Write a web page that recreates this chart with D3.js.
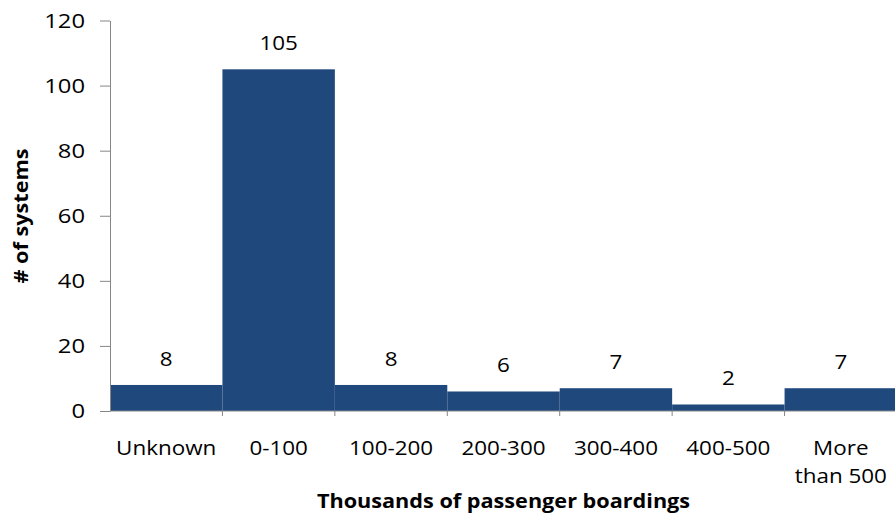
<!DOCTYPE html>
<html>
<head>
<meta charset="utf-8">
<script src="https://cdn.jsdelivr.net/npm/d3@7"></script>
<style>
  html, body { margin: 0; padding: 0; background: #fff; }
  svg { display: block; font-family: "Open Sans", "Liberation Sans", sans-serif; }
</style>
</head>
<body>
<svg id="chart" width="895" height="531"></svg>
<script>
// Ridership bins and number of systems in each
const categories = ["Unknown", "0-100", "100-200", "200-300", "300-400", "400-500", "More than 500"];
const systems = [8, 105, 8, 6, 7, 2, 7];
const yTicks = [0, 20, 40, 60, 80, 100, 120];
const xTitle = "Thousands of passenger boardings";
const yTitle = "# of systems";

const svg = d3.select("#chart");
const plotLeft = 110, plotRight = 897, plotTop = 20.5, plotBottom = 411;

// Wide lettering: text is stretched horizontally around its anchor point
const stretch = 1.15;
const stretchTick = 1.16;
const stretchBold = 1.14;

const x = d3.scaleBand().domain(categories).range([plotLeft, plotRight]).padding(0);
const y = d3.scaleLinear().domain([0, 120]).range([plotBottom, plotTop]);

const axisColor = "#868686";
const barColor = "#1F497D";

// Bars, drawn edge to edge
svg.append("g").selectAll("rect")
  .data(categories)
  .join("rect")
  .attr("x", d => x(d))
  .attr("width", x.bandwidth())
  .attr("y", (d, i) => y(systems[i]))
  .attr("height", (d, i) => y(0) - y(systems[i]))
  .attr("fill", barColor);

// Value labels above each bar
svg.append("g").selectAll("text")
  .data(categories)
  .join("text")
  .attr("transform", (d, i) =>
    `translate(${x(d) + x.bandwidth() / 2},${y(systems[i]) - 19}) scale(${stretch},1)`)
  .attr("text-anchor", "middle")
  .attr("font-size", 19.5)
  .attr("fill", "#000")
  .text((d, i) => systems[i]);

// Y axis
const yAxis = svg.append("g")
  .attr("transform", `translate(${plotLeft},0)`)
  .call(d3.axisLeft(y).tickValues(yTicks).tickSize(10).tickSizeOuter(0));
yAxis.select(".domain").attr("stroke", axisColor);
yAxis.selectAll(".tick line").attr("stroke", axisColor);
yAxis.selectAll(".tick text")
  .attr("x", 0)
  .attr("transform", `translate(-25,0) scale(${stretchTick},1)`)
  .attr("font-size", 20.5)
  .attr("fill", "#000")
  .attr("font-family", "\"Open Sans\", sans-serif");

// X axis with ticks on bin boundaries
const xAxis = svg.append("g").attr("transform", `translate(0,${plotBottom})`);
xAxis.append("line").attr("x1", plotLeft).attr("x2", plotRight).attr("stroke", axisColor);
xAxis.selectAll("line.bt")
  .data(categories.slice(1))
  .join("line")
  .attr("class", "bt")
  .attr("x1", d => x(d)).attr("x2", d => x(d))
  .attr("y1", 0).attr("y2", 5)
  .attr("stroke", axisColor);

// Category labels, wrapping long names onto two lines
const catLabels = svg.append("g").selectAll("text")
  .data(categories)
  .join("text")
  .attr("text-anchor", "middle")
  .attr("font-size", 19.5)
  .attr("fill", "#000")
  .attr("transform", d => `translate(${x(d) + x.bandwidth() / 2},455) scale(${stretch},1)`);
catLabels.each(function(d) {
  const t = d3.select(this);
  const lines = d === "More than 500" ? ["More", "than 500"] : [d];
  lines.forEach((ln, k) => t.append("tspan").attr("x", 0).attr("y", k * 28).text(ln));
});

// Axis titles
svg.append("text")
  .attr("transform", `translate(${(plotLeft + plotRight) / 2},508) scale(${stretchBold},1)`)
  .attr("text-anchor", "middle")
  .attr("font-size", 19)
  .attr("font-weight", "bold")
  .text(xTitle);

svg.append("text")
  .attr("transform", `translate(28,216) rotate(-90) scale(${stretchBold},1)`)
  .attr("text-anchor", "middle")
  .attr("font-size", 19)
  .attr("font-weight", "bold")
  .text(yTitle);
</script>
</body>
</html>
